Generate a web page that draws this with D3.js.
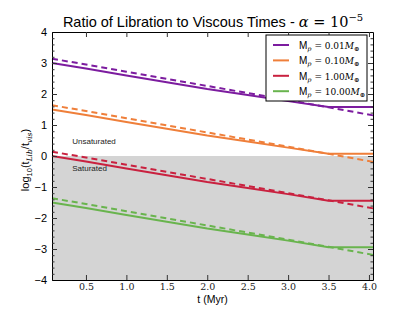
<!DOCTYPE html>
<html>
<head>
<meta charset="utf-8">
<script src="https://cdn.jsdelivr.net/npm/d3@7"></script>
<style>
  body { margin: 0; background: #fff; }
  svg { display: block; }
</style>
</head>
<body>
<div id="chart"></div>
<script>
// values
const times = [0.08, 0.5, 1.0, 1.5, 2.0, 2.5, 3.0, 3.5, 4.05];

const purpleSolid  = [3.00, 2.82, 2.60, 2.38, 2.16, 1.97, 1.77, 1.58, 1.58];
const purpleDashed = [3.14, 2.95, 2.72, 2.49, 2.26, 2.03, 1.80, 1.57, 1.31];
const orangeSolid  = [1.50, 1.32, 1.10, 0.88, 0.66, 0.47, 0.27, 0.07, 0.07];
const orangeDashed = [1.64, 1.45, 1.22, 0.99, 0.76, 0.53, 0.30, 0.07, -0.19];
const redSolid     = [0.00, -0.18, -0.40, -0.62, -0.84, -1.03, -1.23, -1.44, -1.44];
const redDashed    = [0.14, -0.05, -0.28, -0.51, -0.74, -0.97, -1.20, -1.43, -1.69];
const greenSolid   = [-1.50, -1.68, -1.90, -2.12, -2.34, -2.53, -2.73, -2.94, -2.94];
const greenDashed  = [-1.36, -1.55, -1.78, -2.01, -2.24, -2.47, -2.70, -2.93, -3.19];

const massLabels = ['0.01', '0.10', '1.00', '10.00'];
const colors = ['#7c1c9f', '#ef7f3a', '#c9213f', '#69b44e'];
const xTicks = [0.5, 1.0, 1.5, 2.0, 2.5, 3.0, 3.5, 4.0];
const yTicks = [-4, -3, -2, -1, 0, 1, 2, 3, 4];

const series = [
    { solid: purpleSolid, dashed: purpleDashed },
    { solid: orangeSolid, dashed: orangeDashed },
    { solid: redSolid, dashed: redDashed },
    { solid: greenSolid, dashed: greenDashed }
];

const width = 415;
const height = 312;
const margin = { top: 32, right: 42, bottom: 32, left: 52 };

const svg = d3.select('#chart')
    .append('svg')
    .attr('width', width)
    .attr('height', height);

const x = d3.scaleLinear()
    .domain([0.08, 4.05])
    .range([margin.left, width - margin.right]);

const y = d3.scaleLinear()
    .domain([-4, 4])
    .range([height - margin.bottom, margin.top]);

// saturated region
svg.append('rect')
    .attr('x', x(0.08))
    .attr('y', y(0))
    .attr('width', x(4.05) - x(0.08))
    .attr('height', y(-4) - y(0))
    .attr('fill', '#d4d4d4');

const line = d3.line()
    .x(d => x(d[0]))
    .y(d => y(d[1]));

series.forEach((s, i) => {
    svg.append('path')
        .attr('d', line(times.map((t, j) => [t, s.dashed[j]])))
        .attr('fill', 'none')
        .attr('stroke', colors[i])
        .attr('stroke-width', 2)
        .attr('stroke-dasharray', '6,4');
    svg.append('path')
        .attr('d', line(times.map((t, j) => [t, s.solid[j]])))
        .attr('fill', 'none')
        .attr('stroke', colors[i])
        .attr('stroke-width', 2);
});

// region labels
svg.append('text')
    .attr('x', x(0.33))
    .attr('y', y(0.38))
    .attr('font-family', 'Liberation Sans, Arial, sans-serif')
    .attr('font-size', 8)
    .attr('fill', '#222')
    .text('Unsaturated');
svg.append('text')
    .attr('x', x(0.33))
    .attr('y', y(-0.48))
    .attr('font-family', 'Liberation Sans, Arial, sans-serif')
    .attr('font-size', 8)
    .attr('fill', '#222')
    .text('Saturated');

// axes: ticks inside, on all four sides
const yMinor = d3.range(-4, 4.01, 0.2).filter(v => Math.abs(v - Math.round(v)) > 0.01);

const axLeft = d3.axisLeft(y).tickValues(yTicks).tickSizeInner(-5).tickSizeOuter(0).tickPadding(5).tickFormat(d3.format('d'));
svg.append('g')
    .attr('transform', `translate(${margin.left},0)`)
    .call(axLeft)
    .call(g => g.selectAll('text')
        .attr('font-family', 'Liberation Sans, Arial, sans-serif')
        .attr('font-size', 11)
        .attr('fill', '#000'));

svg.append('g')
    .attr('transform', `translate(${margin.left},0)`)
    .call(d3.axisLeft(y).tickValues(yMinor).tickSizeInner(-2.5).tickSizeOuter(0).tickFormat(''))
    .call(g => g.select('.domain').remove());

svg.append('g')
    .attr('transform', `translate(${width - margin.right},0)`)
    .call(d3.axisRight(y).tickValues(yTicks).tickSizeInner(-5).tickSizeOuter(0).tickFormat(''));

svg.append('g')
    .attr('transform', `translate(${width - margin.right},0)`)
    .call(d3.axisRight(y).tickValues(yMinor).tickSizeInner(-2.5).tickSizeOuter(0).tickFormat(''))
    .call(g => g.select('.domain').remove());

svg.append('g')
    .attr('transform', `translate(0,${height - margin.bottom})`)
    .call(d3.axisBottom(x).tickValues(xTicks).tickSizeInner(-5).tickSizeOuter(0).tickPadding(3).tickFormat(d3.format('.1f')))
    .call(g => g.selectAll('text')
        .attr('font-family', 'DejaVu Serif, serif')
        .attr('font-size', 9.5)
        .attr('fill', '#222'));

svg.append('g')
    .attr('transform', `translate(0,${margin.top})`)
    .call(d3.axisTop(x).tickValues(xTicks).tickSizeInner(-5).tickSizeOuter(0).tickFormat(''));

svg.selectAll('.domain').attr('stroke', '#000');
svg.selectAll('.tick line').attr('stroke', '#333');

// title
const title = svg.append('text')
    .attr('x', 213)
    .attr('y', 27)
    .attr('text-anchor', 'middle')
    .attr('font-family', 'Liberation Sans, Arial, sans-serif')
    .attr('font-size', 14.5);
title.append('tspan').text('Ratio of Libration to Viscous Times - ');
title.append('tspan').attr('font-family', 'DejaVu Serif, serif').attr('font-style', 'italic').text('α');
title.append('tspan').attr('font-family', 'DejaVu Serif, serif').text(' = 10');
title.append('tspan').attr('font-family', 'DejaVu Serif, serif').attr('font-size', 10).attr('dy', -6).text('−5');

// axis labels
svg.append('text')
    .attr('x', x(2.065))
    .attr('y', 303)
    .attr('text-anchor', 'middle')
    .attr('font-family', 'Liberation Sans, Arial, sans-serif')
    .attr('font-size', 10.5)
    .text('t (Myr)');

const yLabel = svg.append('text')
    .attr('transform', `translate(29,${y(0) + 4}) rotate(-90)`)
    .attr('text-anchor', 'middle')
    .attr('font-family', 'Liberation Sans, Arial, sans-serif')
    .attr('font-size', 11);
yLabel.append('tspan').text('log');
yLabel.append('tspan').attr('font-size', 7.5).attr('dy', 3).text('10');
yLabel.append('tspan').attr('dy', -3).text('(t');
yLabel.append('tspan').attr('font-size', 7.5).attr('font-family', 'DejaVu Serif, serif').attr('font-style', 'italic').attr('dy', 3).text('Lib');
yLabel.append('tspan').attr('dy', -3).text('/t');
yLabel.append('tspan').attr('font-size', 7.5).attr('font-family', 'DejaVu Serif, serif').attr('font-style', 'italic').attr('dy', 3).text('vis');
yLabel.append('tspan').attr('dy', -3).text(')');

// legend
const legend = svg.append('g').attr('transform', 'translate(266,35)');
legend.append('rect')
    .attr('width', 101)
    .attr('height', 66)
    .attr('fill', '#fff')
    .attr('stroke', '#000')
    .attr('stroke-width', 1);

massLabels.forEach((m, i) => {
    const row = legend.append('g').attr('transform', `translate(0,${10 + i * 15.4})`);
    row.append('line')
        .attr('x1', 7).attr('x2', 23)
        .attr('y1', 0).attr('y2', 0)
        .attr('stroke', colors[i])
        .attr('stroke-width', 2);
    const t = row.append('text')
        .attr('x', 33)
        .attr('y', 4)
        .attr('font-family', 'Liberation Sans, Arial, sans-serif')
        .attr('font-size', 10);
    t.append('tspan').text('M');
    t.append('tspan').attr('font-family', 'DejaVu Serif, serif').attr('font-style', 'italic').attr('font-size', 6.5).attr('dy', 2).text('p');
    t.append('tspan').attr('font-family', 'DejaVu Serif, serif').attr('font-size', 9).attr('dy', -2).text(` = ${m}`);
    t.append('tspan').attr('font-family', 'DejaVu Serif, serif').attr('font-style', 'italic').attr('font-size', 9).text('M');
    t.append('tspan').attr('font-family', 'DejaVu Serif, serif').attr('font-size', 6.5).attr('dy', 2).text('⊕');
});
</script>
</body>
</html>
